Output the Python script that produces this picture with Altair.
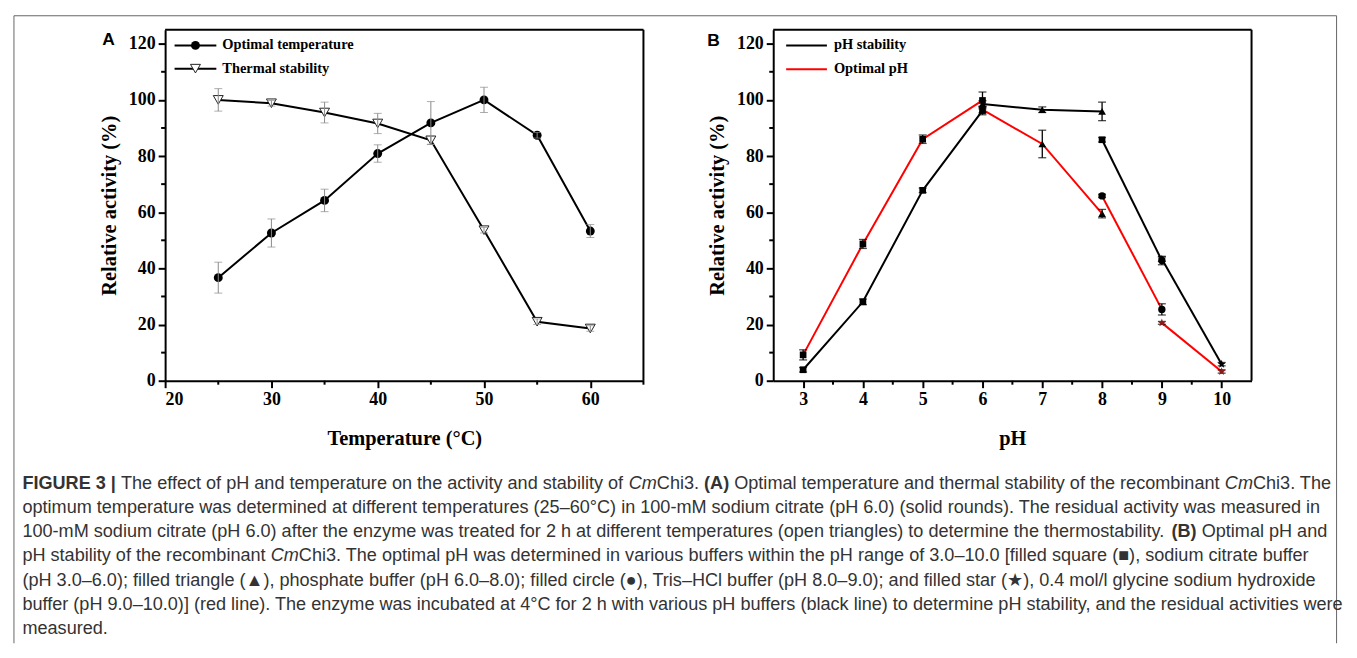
import math
import altair as alt
import pandas as pd

# ---------------- Panel A data ----------------
TEMP = [25, 30, 35, 40, 45, 50, 55, 60]
OPT_TEMP = [36.7, 52.6, 64.2, 80.9, 91.8, 100.0, 87.4, 53.3]
OPT_TEMP_ERR = [5.5, 5.0, 4.0, 3.1, 7.6, 4.5, 1.0, 2.3]
THERMAL = [100.0, 98.8, 95.5, 91.6, 85.6, 53.6, 21.0, 18.6]
THERMAL_ERR = [4.0, 1.0, 3.7, 3.6, 1.5, 1.0, 1.0, 1.0]

# ---------------- Panel B data (one segment per buffer) ----------------
CIT_PH = [3, 4, 5, 6]
PHO_PH = [6, 7, 8]
TRIS_PH = [8, 9]
GLY_PH = [9, 10]

STAB_CIT = [3.9, 28.1, 67.8, 96.2]
STAB_CIT_ERR = [0.8, 1.0, 0.8, 1.5]
STAB_PHO = [98.5, 96.5, 95.9]
STAB_PHO_ERR = [1.2, 1.0, 3.3]
STAB_TRIS = [85.8, 42.8]
STAB_TRIS_ERR = [0.8, 1.5]
STAB_GLY = [43.3, 5.9]
STAB_GLY_ERR = [0.8, 0.6]

OPT_CIT = [9.2, 48.7, 86.0, 99.8]
OPT_CIT_ERR = [1.8, 1.6, 1.5, 3.0]
OPT_PHO = [96.5, 84.3, 59.5]
OPT_PHO_ERR = [1.2, 4.9, 1.5]
OPT_TRIS = [65.8, 25.4]
OPT_TRIS_ERR = [0.6, 2.0]
OPT_GLY = [20.6, 3.3]
OPT_GLY_ERR = [0.5, 0.6]

STAB_TRIS_SHAPE = ["square", "circle"]

# ---------------- ticks ----------------
Y_MAJOR = [0, 20, 40, 60, 80, 100, 120]
Y_MINOR = [10, 30, 50, 70, 90, 110]
XA_MAJOR = [20, 30, 40, 50, 60]
XA_MINOR = [25, 35, 45, 55, 65]
XB_MAJOR = [3, 4, 5, 6, 7, 8, 9, 10]
XB_MINOR = [3.5, 4.5, 5.5, 6.5, 7.5, 8.5, 9.5]

# ---------------- text ----------------
Y_TITLE = "Relative activity (%)"
XA_TITLE = "Temperature (°C)"
XB_TITLE = "pH"
LEGEND_A = ["Optimal temperature", "Thermal stability"]
LEGEND_B = ["pH stability", "Optimal pH"]

CAPTION = [
    [("FIGURE 3 |", "b"), (" The effect of pH and temperature on the activity and stability of ", "r"),
     ("Cm", "i"), ("Chi3. ", "r"), ("(A)", "b"),
     (" Optimal temperature and thermal stability of the recombinant ", "r"), ("Cm", "i"), ("Chi3. The", "r")],
    [("optimum temperature was determined at different temperatures (25–60°C) in 100-mM sodium citrate "
      "(pH 6.0) (solid rounds). The residual activity was measured in", "r")],
    [("100-mM sodium citrate (pH 6.0) after the enzyme was treated for 2 h at different temperatures "
      "(open triangles) to determine the thermostability. ", "r"), ("(B)", "b"), (" Optimal pH and", "r")],
    [("pH stability of the recombinant ", "r"), ("Cm", "i"),
     ("Chi3. The optimal pH was determined in various buffers within the pH range of 3.0–10.0 "
      "[filled square (■), sodium citrate buffer", "r")],
    [("(pH 3.0–6.0); filled triangle (▲), phosphate buffer (pH 6.0–8.0); filled circle (●), Tris–HCl buffer "
      "(pH 8.0–9.0); and filled star (★), 0.4 mol/l glycine sodium hydroxide", "r")],
    [("buffer (pH 9.0–10.0)] (red line). The enzyme was incubated at 4°C for 2 h with various pH buffers "
      "(black line) to determine pH stability, and the residual activities were", "r")],
    [("measured.", "r")],
]

# five-pointed star as a unit SVG path (Vega has no built-in star symbol)
_pts = []
for k in range(10):
    r = 1.0 if k % 2 == 0 else 0.42
    a = math.radians(-90 + 36 * k)
    _pts.append(f"{r * math.cos(a):.3f},{r * math.sin(a):.3f}")
STAR_PATH = "M" + "L".join(_pts) + "Z"

# ---------------- layout constants (single view; origin = panel A plot top-left) ----------------
OX, OY = 165.5, 27.5          # page position of panel A plot area
PW, PHT = 481, 353            # plot area size of each panel
BX0 = 611.5                   # panel B plot left, relative to panel A plot left
VIEW_W = BX0 + PW


def cx(v):
    return round(v - OX, 2)


def cy(v):
    return round(v - OY, 2)


# Arial / Liberation Sans advance widths (1/1000 em)
REG = {}
for chars, w in [("'", 191), ("ijl", 222), ("|", 260), (" !,./:;I[]\\ft", 278), ("()-`r", 333),
                 ('"', 355), ("*", 389), ("°", 400), ("Jcksvxyz", 500),
                 ("0123456789#$?_abdeghnopquL–", 556), ("+<=>~", 584), ("FTZ", 611),
                 ("ABEKPSVXY&", 667), ("CDHNRUw", 722), ("GOQ", 778), ("Mm", 833), ("%", 889),
                 ("W", 944), ("@", 1015)]:
    for ch in chars:
        REG[ch] = w
BOLD = dict(REG)
BOLD.update({"A": 722, "B": 722, "|": 280, "R": 722, "U": 722})


def units(s, style):
    tab = BOLD if style == "b" else REG
    return sum(tab.get(ch, 770) for ch in s)


CAP_X0 = 22.0
CAP_W_LINE1 = 1316.0
FS = round(CAP_W_LINE1 / (sum(units(t, st) for t, st in CAPTION[0]) / 1000.0), 2)
LINE_Y0, LINE_DY = 484.0, 24.4


def text_item(t, x, y, **kw):
    return alt.Chart(pd.DataFrame({"t": [t]})).mark_text(**kw).encode(
        x=alt.value(x), y=alt.value(y), text="t:N")


_rule_id = [0]


def rule_item(x1, y1, x2, y2, color, width):
    _rule_id[0] += 1
    return alt.Chart(pd.DataFrame({"k": [_rule_id[0]]})).mark_rule(color=color, strokeWidth=width).encode(
        x=alt.value(x1), x2=alt.value(x2), y=alt.value(y1), y2=alt.value(y2))


deco = []
# outer figure frame (left, top, right)
for (x1, y1, x2, y2) in [(13.5, 13.5, 13.5, 644.5), (13.5, 13.5, 1343.5, 13.5), (1343.5, 13.5, 1343.5, 644.5)]:
    deco.append(rule_item(cx(x1), cy(y1), cx(x2), cy(y2), "#666666", 1))
# panel frames (top and right edges; left/bottom are the axis lines)
for x0 in (0, BX0):
    deco.append(rule_item(x0, 0, x0 + PW, 0, "black", 2))
    deco.append(rule_item(x0 + PW, 0, x0 + PW, PHT, "black", 2))

# legends
for (x1, x2, y, c) in [(175, 217, 43.3, "black"), (175, 217, 66.7, "black"),
                       (790, 831, 43.3, "black"), (790, 831, 67.3, "#ff0000")]:
    deco.append(rule_item(cx(x1), cy(y), cx(x2), cy(y), c, 2))
deco.append(alt.Chart(pd.DataFrame({"k": [101]})).mark_point(
    shape="circle", filled=True, color="black", size=80, opacity=1).encode(
    x=alt.value(cx(196)), y=alt.value(cy(43.3))))
deco.append(alt.Chart(pd.DataFrame({"k": [102]})).mark_point(
    shape="triangle-down", filled=True, fill="white", stroke="#222222", strokeWidth=1, size=100, opacity=1).encode(
    x=alt.value(cx(196)), y=alt.value(cy(66.7))))
LEG_STYLE = dict(align="left", baseline="middle", font="Liberation Serif", fontWeight="bold",
                 fontSize=14.5, color="black")
for t, x, y in [(LEGEND_A[0], 223, 43.3), (LEGEND_A[1], 223, 66.7), (LEGEND_B[0], 838, 43.3), (LEGEND_B[1], 838, 67.3)]:
    deco.append(text_item(t, cx(x), cy(y), **LEG_STYLE))

# panel letters
for t, x, y in [("A", 108.5, 38), ("B", 717, 38.5)]:
    deco.append(text_item(t, cx(x), cy(y), align="center", baseline="middle", font="Liberation Sans",
                          fontWeight="bold", fontSize=17.5, color="black"))

# caption
STYLE = {"r": {}, "b": dict(fontWeight="bold"), "i": dict(fontStyle="italic")}
for i, line in enumerate(CAPTION):
    cur = CAP_X0
    for t, st in line:
        lead = len(t) - len(t.lstrip(" "))
        x = cur + lead * 278 * FS / 1000.0
        deco.append(text_item(t.strip(" "), cx(x), cy(LINE_Y0 + i * LINE_DY), align="left", baseline="middle",
                              font="Liberation Sans", fontSize=FS, color="#333333", **STYLE[st]))
        cur += units(t, st) * FS / 1000.0


# ---------------- shared encodings ----------------
def y_enc(field, offset=0):
    return alt.Y(field, type="quantitative", title=Y_TITLE,
                 scale=alt.Scale(domain=[0, 125], nice=False, zero=False),
                 axis=alt.Axis(orient="left", offset=offset, values=Y_MAJOR, tickSize=7,
                               labelPadding=3, titlePadding=9))


def xa_enc(field):
    return alt.X(field, type="quantitative", title=XA_TITLE,
                 scale=alt.Scale(domain=[20, 65], range=[0, PW], nice=False, zero=False),
                 axis=alt.Axis(orient="bottom", values=XA_MAJOR, tickSize=7, labelPadding=3, titlePadding=20))


def xb_enc(field):
    return alt.X(field, type="quantitative", title=XB_TITLE,
                 scale=alt.Scale(domain=[2.5, 10.5], range=[BX0, BX0 + PW], nice=False, zero=False),
                 axis=alt.Axis(orient="bottom", values=XB_MAJOR, tickSize=7, labelPadding=3, titlePadding=20,
                               format="d"))


def minor_ticks(x_enc_fn, x_minor, x0, y_off, tag):
    ym = alt.Chart(pd.DataFrame({"m": Y_MINOR, "p": tag})).mark_rule(color="black", strokeWidth=2).encode(
        y=y_enc("m", y_off), x=alt.value(x0 - 4), x2=alt.value(x0))
    xm = alt.Chart(pd.DataFrame({"m": x_minor, "p": tag})).mark_rule(color="black", strokeWidth=2).encode(
        x=x_enc_fn("m"), y=alt.value(PHT), y2=alt.value(PHT + 4))
    return [ym, xm]


# ---------------- Panel A ----------------
dfA = pd.concat([
    pd.DataFrame({"T": TEMP, "v": OPT_TEMP, "e": OPT_TEMP_ERR, "s": "opt"}),
    pd.DataFrame({"T": TEMP, "v": THERMAL, "e": THERMAL_ERR, "s": "therm"}),
], ignore_index=True)
dfA["lo"] = dfA["v"] - dfA["e"]
dfA["hi"] = dfA["v"] + dfA["e"]

baseA = alt.Chart(dfA)
linesA = [baseA.transform_filter(f"datum.s == '{s}'").mark_line(color="black", strokeWidth=2).encode(
    x=xa_enc("T"), y=y_enc("v")) for s in ("opt", "therm")]
triA = baseA.transform_filter("datum.s == 'therm'").mark_point(
    shape="triangle-down", filled=True, fill="white", stroke="#222222", strokeWidth=1, size=100, opacity=1
).encode(x=xa_enc("T"), y=y_enc("v"))
circA = baseA.transform_filter("datum.s == 'opt'").mark_point(
    shape="circle", filled=True, color="black", size=80, opacity=1
).encode(x=xa_enc("T"), y=y_enc("v"))
errA = baseA.mark_rule(color="#8a8a8a", strokeWidth=1).encode(x=xa_enc("T"), y=y_enc("lo"), y2="hi:Q")
capA_lo = baseA.mark_tick(color="#8a8a8a", thickness=1, size=8, orient="horizontal").encode(
    x=xa_enc("T"), y=y_enc("lo"))
capA_hi = baseA.mark_tick(color="#8a8a8a", thickness=1, size=8, orient="horizontal").encode(
    x=xa_enc("T"), y=y_enc("hi"))
panelA = alt.layer(*linesA, triA, circA, errA, capA_lo, capA_hi, *minor_ticks(xa_enc, XA_MINOR, 0, 0, "A"))

# ---------------- Panel B ----------------
def seg(line, buf, ph, vals, errs, shapes, fill):
    return pd.DataFrame({"line": line, "key": line + "_" + buf, "ph": ph, "v": vals, "e": errs,
                         "shp": shapes, "col": fill})


dfB = pd.concat([
    seg("stab", "cit", CIT_PH, STAB_CIT, STAB_CIT_ERR, ["square"] * 4, "k"),
    seg("stab", "pho", PHO_PH, STAB_PHO, STAB_PHO_ERR, ["triangle-up"] * 3, "k"),
    seg("stab", "tris", TRIS_PH, STAB_TRIS, STAB_TRIS_ERR, STAB_TRIS_SHAPE, "k"),
    seg("stab", "gly", GLY_PH, STAB_GLY, STAB_GLY_ERR, ["star"] * 2, "k"),
    seg("opt", "cit", CIT_PH, OPT_CIT, OPT_CIT_ERR, ["square"] * 4, "k"),
    seg("opt", "pho", PHO_PH, OPT_PHO, OPT_PHO_ERR, ["triangle-up"] * 3, "k"),
    seg("opt", "tris", TRIS_PH, OPT_TRIS, OPT_TRIS_ERR, ["circle"] * 2, "k"),
    seg("opt", "gly", GLY_PH, OPT_GLY, OPT_GLY_ERR, ["star"] * 2, "r"),
], ignore_index=True)
dfB["lo"] = dfB["v"] - dfB["e"]
dfB["hi"] = dfB["v"] + dfB["e"]

YB_OFF = -BX0
baseB = alt.Chart(dfB)
linesB = []
for key in dfB["key"].unique():
    color = "black" if key.startswith("stab") else "#ff0000"
    linesB.append(baseB.transform_filter(f"datum.key == '{key}'").mark_line(color=color, strokeWidth=2).encode(
        x=xb_enc("ph"), y=y_enc("v", YB_OFF)))
errB = baseB.mark_rule(color="black", strokeWidth=1.3).encode(
    x=xb_enc("ph"), y=y_enc("lo", YB_OFF), y2="hi:Q")
capB_lo = baseB.mark_tick(color="black", thickness=1.3, size=8, orient="horizontal").encode(
    x=xb_enc("ph"), y=y_enc("lo", YB_OFF))
capB_hi = baseB.mark_tick(color="black", thickness=1.3, size=8, orient="horizontal").encode(
    x=xb_enc("ph"), y=y_enc("hi", YB_OFF))

pt_layers = []
for shp, col, size, color in [("square", "k", 45, "black"), ("triangle-up", "k", 60, "black"),
                              ("circle", "k", 55, "black"), ("star", "k", 75, "black"),
                              ("star", "r", 75, "#8b1a1a")]:
    symbol = STAR_PATH if shp == "star" else shp
    pt_layers.append(
        baseB.transform_filter(f"datum.shp == '{shp}' && datum.col == '{col}'").mark_point(
            shape=symbol, filled=True, color=color, size=size, opacity=1
        ).encode(x=xb_enc("ph"), y=y_enc("v", YB_OFF)))

panelB = alt.layer(*linesB, errB, capB_lo, capB_hi, *pt_layers,
                   *minor_ticks(xb_enc, XB_MINOR, BX0, YB_OFF, "B"))

chart = alt.layer(panelA, panelB, *deco).resolve_scale(
    x="independent", y="independent"
).properties(width=VIEW_W, height=PHT).configure_view(stroke="transparent").configure_axis(
    domainColor="black", domainWidth=2, tickColor="black", tickWidth=2, grid=False,
    labelFont="Liberation Serif", labelFontWeight="bold", labelFontSize=18, labelColor="black",
    titleFont="Liberation Serif", titleFontWeight="bold", titleFontSize=20.5, titleColor="black")

chart.save("out.html", embed_options={"renderer": "svg", "actions": False})
